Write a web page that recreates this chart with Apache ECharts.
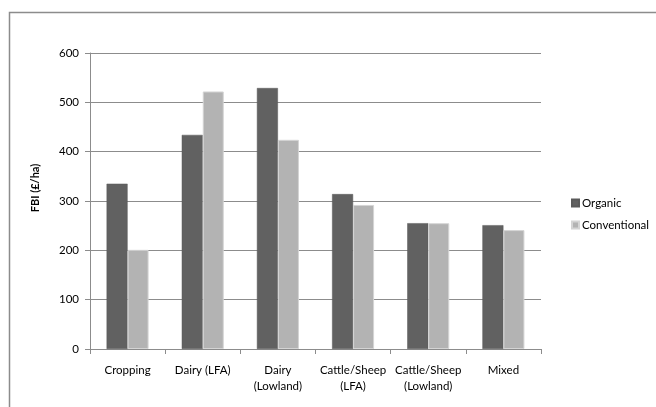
<!DOCTYPE html>
<html>
<head>
<meta charset="utf-8">
<script src="https://cdn.jsdelivr.net/npm/echarts@6/dist/echarts.min.js"></script>
<style>html,body{margin:0;padding:0;background:#fff;}#c{width:656px;height:407px;}</style>
</head>
<body>
<div id="c"></div>
<script>
var categories = ['Cropping', 'Dairy (LFA)', 'Dairy\n(Lowland)', 'Cattle/Sheep\n(LFA)', 'Cattle/Sheep\n(Lowland)', 'Mixed'];
var organic = [335, 434, 529, 314, 255, 251];
var conventional = [201, 522, 424, 292, 255, 241];
var yTicks = [0, 100, 200, 300, 400, 500, 600];
var seriesNames = ['Organic', 'Conventional'];
var yTitle = 'FBI (£/ha)';

var font = 'Lato, "Open Sans", sans-serif';
var fs = 11.5;
var chart = echarts.init(document.getElementById('c'), null, {renderer: 'canvas'});
chart.setOption({
  animation: false,
  backgroundColor: '#fff',
  textStyle: {fontFamily: font},
  grid: {left: 90, right: 115, top: 53, bottom: 58, containLabel: false},
  legend: {
    orient: 'vertical',
    left: 566, top: 192,
    itemWidth: 7, itemHeight: 7, itemGap: 10,
    icon: 'rect',
    textStyle: {fontFamily: font, fontSize: fs, color: '#000', padding: [0, 0, 0, -2]},
    data: seriesNames
  },
  xAxis: {
    type: 'category',
    data: categories,
    axisLine: {lineStyle: {color: '#8c8c8c', width: 1}},
    axisTick: {show: true, length: 5, inside: false, lineStyle: {color: '#8c8c8c'}},
    axisLabel: {fontFamily: font, fontSize: fs, color: '#000', margin: 13, lineHeight: 16, interval: 0}
  },
  yAxis: {
    type: 'value',
    min: yTicks[0], max: yTicks[yTicks.length - 1], interval: 100,
    axisLine: {show: true, lineStyle: {color: '#8c8c8c'}},
    axisTick: {show: true, length: 5, lineStyle: {color: '#8c8c8c'}},
    splitLine: {lineStyle: {color: '#8c8c8c', width: 1}},
    axisLabel: {fontFamily: font, fontSize: fs, color: '#000', margin: 11}
  },
  series: [
    {name: seriesNames[0], type: 'bar', data: organic, barWidth: 21, barGap: '0%',
     itemStyle: {color: '#616161', borderColor: '#5a5a5a', borderWidth: 0.5}},
    {name: seriesNames[1], type: 'bar', data: conventional, barWidth: 21, barGap: '0%',
     itemStyle: {color: '#b3b3b3', borderColor: '#d4d4d4', borderWidth: 1}}
  ],
  graphic: [
    {type: 'rect', left: 7, top: 10, shape: {width: 700, height: 500}, silent: true, z: -10,
     style: {fill: 'none', stroke: '#8c8c8c', lineWidth: 1.5}},
    {type: 'text', x: 35, y: 188, rotation: Math.PI / 2, silent: true,
     style: {text: yTitle, font: 'bold 11px ' + font, fill: '#000', align: 'center', verticalAlign: 'middle'}}
  ]
});
</script>
</body>
</html>
